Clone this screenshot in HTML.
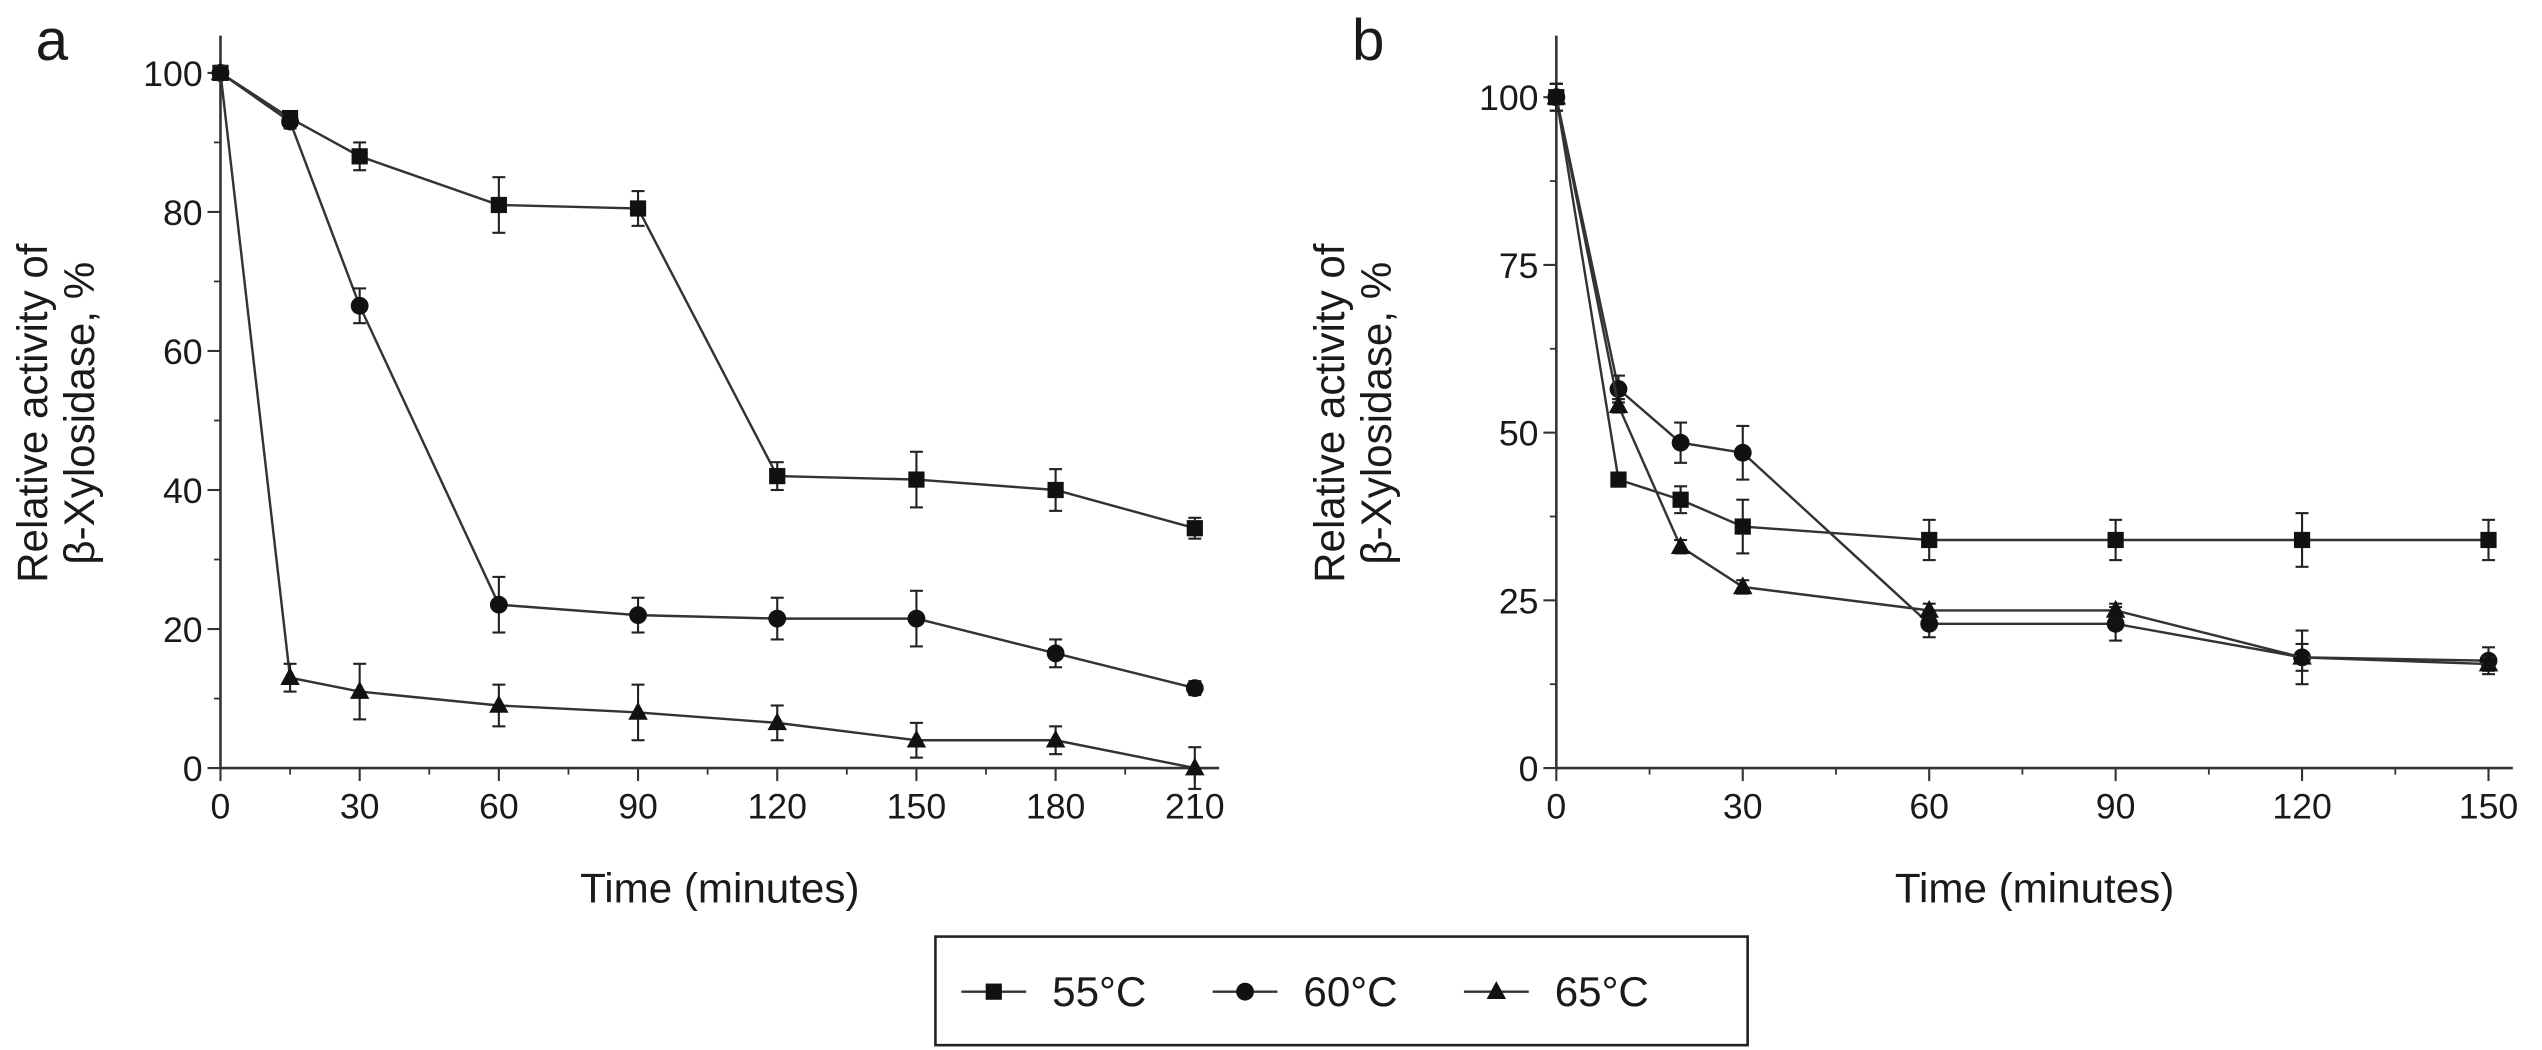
<!DOCTYPE html>
<html><head><meta charset="utf-8"><style>
html,body{margin:0;padding:0;background:#fff;}
svg{display:block;}
text{font-family:"Liberation Sans",sans-serif;fill:#1a1a1a;}
</style></head><body>
<svg id="chart" width="2542" height="1050" viewBox="0 0 1568 648" preserveAspectRatio="none"></svg>
<script>
// ---- data ----
const timesA = [0,15,30,60,90,120,150,180,210];
const a55 = [100,93.5,88,81,80.5,42,41.5,40,34.5];
const a55err = [1,1,2,4,2.5,2,4,3,1.5];
const a60 = [100,93,66.5,23.5,22,21.5,21.5,16.5,11.5];
const a60err = [1,1,2.5,4,2.5,3,4,2,1];
const a65 = [100,13,11,9,8,6.5,4,4,0];
const a65err = [1,2,4,3,4,2.5,2.5,2,3];
const timesB = [0,10,20,30,60,90,120,150];
const b55 = [100,43,40,36,34,34,34,34];
const b55err = [2,1,2,4,3,3,4,3];
const b60 = [100,56.5,48.5,47,21.5,21.5,16.5,16];
const b60err = [2,2,3,4,2,2.5,2,2];
const b65 = [100,54,33,27,23.5,23.5,16.5,15.5];
const b65err = [2,1,1,1,1,1,4,1];
const xTicksA = [0,30,60,90,120,150,180,210];
const yTicksA = [0,20,40,60,80,100];
const xTicksB = [0,30,60,90,120,150];
const yTicksB = [0,25,50,75,100];
const legendLabels = ['55°C','60°C','65°C'];

const NS='http://www.w3.org/2000/svg';
const svg=document.getElementById('chart');
function el(tag,attrs,parent){const e=document.createElementNS(NS,tag);for(const k in attrs)e.setAttribute(k,attrs[k]);(parent||svg).appendChild(e);return e;}
function txt(s,attrs,parent){const t=el('text',attrs,parent);t.textContent=s;return t;}

function marker(g,shape,x,y){
  let m;
  if(shape==='square'){m=el('rect',{x:x-5,y:y-5,width:10,height:10,fill:'#111'},g);}
  else if(shape==='circle'){m=el('circle',{cx:x,cy:y,r:5.5,fill:'#111'},g);}
  else {m=el('polygon',{points:`${x},${y-6.5} ${x+6},${y+4.5} ${x-6},${y+4.5}`,fill:'#111'},g);}
  return m;
}

function panel(cfg){
  const g=el('g',{});
  
  
  const X=v=>cfg.x0+(v-cfg.xmin)/(cfg.xmax-cfg.xmin)*(cfg.x1-cfg.x0);
  const Y=v=>cfg.y0-(v/cfg.ymax)*(cfg.y0-cfg.y1);
  const ya=el('line',{x1:cfg.x0,y1:cfg.ytop,x2:cfg.x0,y2:cfg.y0,stroke:'#333','stroke-width':1.6},g);
  
  const xa=el('line',{x1:cfg.x0,y1:cfg.y0,x2:cfg.xright,y2:cfg.y0,stroke:'#333','stroke-width':1.6},g);
  
  cfg.xTicks.forEach((t,i)=>{
    const x=X(t);
    el('line',{x1:x,y1:cfg.y0,x2:x,y2:cfg.y0+8,stroke:'#333','stroke-width':1.3},g);
    if(i<cfg.xTicks.length-1){const xm=X(t+(cfg.xTicks[1]-cfg.xTicks[0])/2);el('line',{x1:xm,y1:cfg.y0,x2:xm,y2:cfg.y0+4,stroke:'#333','stroke-width':1.1},g);}
    const l=txt(String(t),{x:x,y:cfg.y0+31,'font-size':22,'text-anchor':'middle'},g);
    
  });
  cfg.yTicks.forEach((t,i)=>{
    const y=Y(t);
    el('line',{x1:cfg.x0-8,y1:y,x2:cfg.x0,y2:y,stroke:'#333','stroke-width':1.3},g);
    if(i<cfg.yTicks.length-1){const ym=Y(t+(cfg.yTicks[1]-cfg.yTicks[0])/2);el('line',{x1:cfg.x0-4,y1:ym,x2:cfg.x0,y2:ym,stroke:'#333','stroke-width':1.1},g);}
    const l=txt(String(t),{x:cfg.x0-11,y:y+8,'font-size':22,'text-anchor':'end'},g);
    
  });
  cfg.series.forEach(s=>{
    const sg=el('g',{},g);
    
    
    const pts=cfg.times.map((t,i)=>X(t)+','+Y(s.vals[i])).join(' ');
    el('polyline',{points:pts,fill:'none',stroke:'#333','stroke-width':1.5},sg);
    cfg.times.forEach((t,i)=>{
      const x=X(t),yt=Y(s.vals[i]+s.err[i]),yb=Y(s.vals[i]-s.err[i]);
      el('line',{x1:x,y1:yt,x2:x,y2:yb,stroke:'#222','stroke-width':1.3},sg);
      el('line',{x1:x-4,y1:yt,x2:x+4,y2:yt,stroke:'#222','stroke-width':1.3},sg);
      el('line',{x1:x-4,y1:yb,x2:x+4,y2:yb,stroke:'#222','stroke-width':1.3},sg);
      const m=marker(sg,s.shape,x,Y(s.vals[i]));
      
      
    });
  });
  const xt=txt('Time (minutes)',{x:(cfg.x0+cfg.xright)/2,y:557,'font-size':26,'text-anchor':'middle'},g);
  
  const yt=el('text',{transform:`translate(${cfg.ytx},255) rotate(-90)`,'font-size':26,'text-anchor':'middle'},g);
  
  const t1=el('tspan',{x:0,y:0},yt);t1.textContent='Relative activity of';
  const t2=el('tspan',{x:0,y:29},yt);t2.textContent='β-Xylosidase, %';
  const pl=txt(cfg.label,{x:cfg.lx,y:37,'font-size':36},g);
  
}

panel({name:'panel-a',label:'a',lx:22,x0:136,x1:737,xmin:0,xmax:210,xright:752,y0:474,y1:45,ymax:100,ytop:22,ytx:29,
  xTicks:xTicksA,yTicks:yTicksA,times:timesA,
  series:[{name:'series-55c-a',vals:a55,err:a55err,shape:'square'},{name:'series-60c-a',vals:a60,err:a60err,shape:'circle'},{name:'series-65c-a',vals:a65,err:a65err,shape:'triangle'}]});
panel({name:'panel-b',label:'b',lx:834,x0:960,x1:1535,xmin:0,xmax:150,xright:1550,y0:474,y1:60,ymax:100,ytop:22,ytx:829,
  xTicks:xTicksB,yTicks:yTicksB,times:timesB,
  series:[{name:'series-55c-b',vals:b55,err:b55err,shape:'square'},{name:'series-60c-b',vals:b60,err:b60err,shape:'circle'},{name:'series-65c-b',vals:b65,err:b65err,shape:'triangle'}]});

const lg=el('g',{});


el('rect',{x:577,y:578,width:501,height:67,fill:'#fff',stroke:'#222','stroke-width':1.6},lg);
const shapes=['square','circle','triangle'];
const lx=[593,748,903];
legendLabels.forEach((lab,i)=>{
  const e=el('g',{},lg);
  
  
  el('line',{x1:lx[i],y1:612,x2:lx[i]+40,y2:612,stroke:'#333','stroke-width':1.5},e);
  marker(e,shapes[i],lx[i]+20,612);
  txt(lab,{x:lx[i]+56,y:621,'font-size':26},e);
});
</script>
</body></html>
